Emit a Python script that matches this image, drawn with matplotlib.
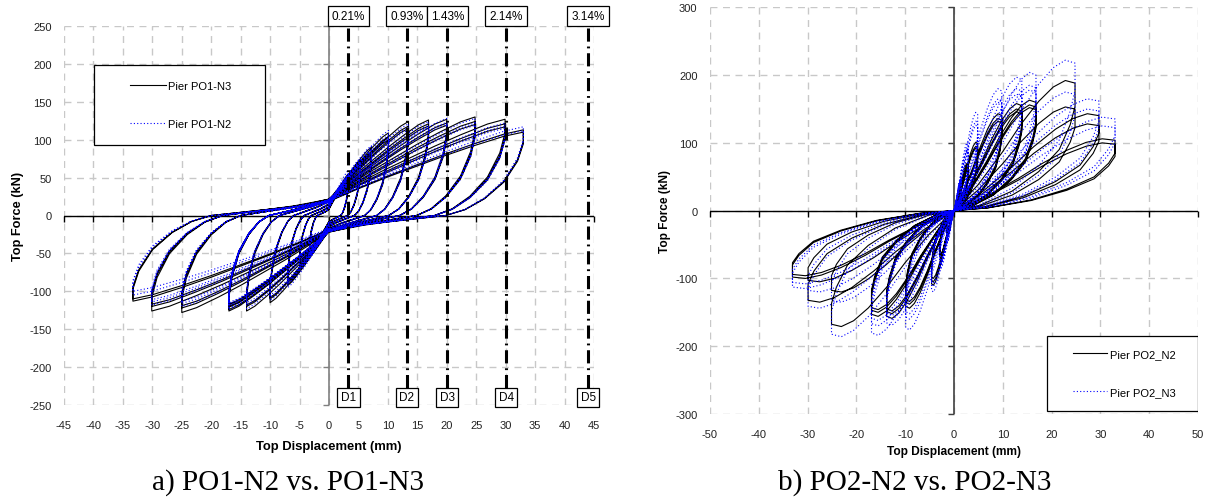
import numpy as np
import matplotlib.pyplot as plt
from matplotlib.patches import Rectangle

plt.rcParams['font.family'] = ['Liberation Sans', 'DejaVu Sans']
plt.rcParams['axes.unicode_minus'] = False

# ---------------- data, panel a (PO1) ----------------
# peak displacement (mm) and peak force (kN) of every cycle
a_amp_pos = [3.3, 3.3, 3.3, 5.3, 5.3, 5.3, 7.2, 7.2, 7.2, 10.1, 10.1, 10.1,
             13.5, 13.5, 13.5, 16.9, 16.9, 16.9, 20.0, 20.0, 20.0,
             24.8, 24.8, 24.8, 29.9, 29.9, 29.9, 33.0, 33.0]
a_amp_neg = [-3.3, -3.3, -3.3, -5.0, -5.0, -5.0, -7.0, -7.0, -7.0, -10.0, -10.0, -10.0,
             -14.0, -14.0, -14.0, -17.0, -17.0, -17.0, -17.0, -17.0, -17.0,
             -25.0, -25.0, -25.0, -30.1, -30.1, -30.1, -33.3, -33.3]
n3_force_pos = [55, 50, 48, 72, 68, 66, 90, 84, 82, 109, 104, 100,
                124, 118, 115, 126, 121, 118, 127, 122, 119,
                130, 124, 120, 127, 121, 117, 113, 110]
n3_force_neg = [-50, -47, -45, -70, -66, -64, -92, -88, -85, -115, -110, -108,
                -126, -120, -118, -126, -121, -118, -124, -120, -117,
                -128, -122, -119, -126, -120, -117, -113, -110]
n2_force_pos = [60, 54, 52, 75, 70, 68, 92, 86, 83, 112, 106, 102,
                121, 116, 113, 124, 119, 116, 128, 123, 120,
                128, 122, 119, 122, 118, 115, 117, 112]
n2_force_neg = [-55, -50, -48, -72, -68, -65, -95, -90, -86, -112, -108, -105,
                -123, -118, -115, -124, -119, -116, -122, -118, -115,
                -120, -116, -113, -118, -114, -111, -105, -100]
# shape of one half cycle, as fractions of peak displacement / peak force
a_shape_u = [0, 0.15, 0.3, 0.45, 0.6, 0.75, 0.9, 1.0, 1.0, 0.97, 0.9, 0.8, 0.7, 0.6, 0.4, 0.2, 0.0]
a_shape_v = [0.17, 0.32, 0.46, 0.59, 0.72, 0.84, 0.95, 1.0, 0.86, 0.65, 0.4, 0.2, 0.07, 0.0, -0.05, -0.1, -0.17]

drift_labels = ['0.21%', '0.93%', '1.43%', '2.14%', '3.14%']
d_labels = ['D1', 'D2', 'D3', 'D4', 'D5']
d_disp = [3.3, 13.2, 20.1, 30.1, 44.0]

# ---------------- data, panel b (PO2) ----------------
b_amp_pos = [1.5, 1.5, 1.5, 2.9, 2.9, 2.9, 4.85, 4.85, 4.85, 9.8, 9.8, 9.8,
             13.9, 13.9, 13.9, 16.8, 16.8, 16.8, 24.8, 24.8, 29.7, 29.7, 33.0, 33.0]
b_amp_neg = [-1.5, -1.5, -1.5, -2.9, -2.9, -2.9, -4.6, -4.6, -4.6, -9.9, -9.9, -9.9,
             -13.8, -13.8, -13.8, -16.9, -16.9, -16.9, -25.1, -25.1, -29.9, -29.9, -33.1, -33.1]
po2n2_force_pos = [45, 42, 40, 70, 66, 64, 101, 95, 92, 143, 136, 132,
                   158, 150, 146, 163, 156, 152, 192, 153, 143, 128, 106, 100]
po2n2_force_neg = [-40, -38, -36, -70, -66, -63, -110, -105, -100, -144, -138, -134,
                   -159, -152, -148, -156, -150, -146, -171, -120, -135, -105, -100, -96]
po2n3_force_pos = [50, 47, 45, 101, 92, 88, 145, 132, 126, 180, 165, 160,
                   197, 180, 172, 204, 185, 178, 222, 175, 165, 150, 138, 125]
po2n3_force_neg = [-48, -45, -43, -85, -80, -76, -120, -112, -106, -176, -160, -152,
                   -169, -160, -155, -184, -170, -162, -186, -135, -144, -120, -115, -108]
b_shape_u = [0, 0.2, 0.4, 0.55, 0.7, 0.82, 0.92, 1.0, 1.0, 0.96, 0.87, 0.7, 0.48, 0.21, 0.0]
b_shape_v = [0.0, 0.2, 0.45, 0.66, 0.84, 0.95, 1.0, 0.98, 0.8, 0.66, 0.47, 0.3, 0.15, 0.04, 0.0]


def loops(amp_pos, amp_neg, f_pos, f_neg, su, sv):
    su = np.array(su)
    sv = np.array(sv)
    xs, ys = [], []
    for ap, an, fp, fn in zip(amp_pos, amp_neg, f_pos, f_neg):
        xs += list(su * ap) + list(su * an)
        ys += list(sv * fp) + list(sv * fn)
    return xs, ys


def style_axes(ax, xt, yt, ycol):
    for s in ax.spines.values():
        s.set_visible(False)
    ax.set_xlim(xt[0], xt[-1])
    ax.set_ylim(yt[0], yt[-1])
    ax.set_xticks(xt)
    ax.set_yticks(yt)
    ax.tick_params(length=0, labelsize=8, colors='#222222')
    ax.tick_params(axis='x', pad=11)
    ax.tick_params(axis='y', pad=9)
    ax.grid(True, color='#c8c8c8', ls=(0, (5, 4)), lw=1)
    ax.set_axisbelow(True)
    ax.axhline(0, color='black', lw=1, zorder=1.5)
    ax.axvline(0, color=ycol, lw=1.2, zorder=1.5)
    ax.plot(xt, np.zeros(len(xt)), ls='none', marker=3, ms=4, mew=1, color='black', clip_on=False)
    ax.plot(np.zeros(len(yt)), yt, ls='none', marker=0, ms=4, mew=1, color=ycol, clip_on=False)


fig = plt.figure(figsize=(12.06, 5.02), dpi=100)

# ---------------- panel a ----------------
ax1 = fig.add_axes([64 / 1206, 96 / 502, 530 / 1206, 379 / 502])
style_axes(ax1, list(range(-45, 46, 5)), list(range(-250, 251, 50)), '#808080')
x, y = loops(a_amp_pos, a_amp_neg, n3_force_pos, n3_force_neg, a_shape_u, a_shape_v)
ax1.plot(x, y, color='black', lw=0.8, label='Pier PO1-N3', zorder=2)
x, y = loops(a_amp_pos, a_amp_neg, n2_force_pos, n2_force_neg, a_shape_u, a_shape_v)
ax1.plot(x, y, color='#0000ff', lw=0.8, ls=(0, (1, 2)), label='Pier PO1-N2', zorder=3)

for xd, pl, dl in zip(d_disp, drift_labels, d_labels):
    ax1.plot([xd, xd], [248, -232], color='black', lw=2.2, ls=(0, (4.3, 1.6, 0.6, 1.6)), zorder=4)
    ax1.text(xd, 1.026, pl, transform=ax1.get_xaxis_transform(), ha='center', va='center',
             fontsize=8.5, bbox=dict(boxstyle='square,pad=0.35', fc='white', ec='black', lw=0.9))
    ax1.text(xd, -240, dl, ha='center', va='center', fontsize=8.5, zorder=5,
             bbox=dict(boxstyle='square,pad=0.3', fc='white', ec='black', lw=0.9))

ax1.add_patch(Rectangle((30 / 530, 260 / 379), 171 / 530, 80 / 379, transform=ax1.transAxes,
                        fc='white', ec='black', lw=0.9, zorder=5))
leg1 = ax1.legend(loc='upper left', bbox_to_anchor=(66 / 530, (406 - 82) / 379), frameon=False,
                  fontsize=8, handlelength=3.2, handletextpad=0.25, labelspacing=2.5, borderpad=0,
                  borderaxespad=0)
leg1.set_zorder(6)

ax1.text(0.5, -0.108, 'Top Displacement (mm)', transform=ax1.transAxes, ha='center', va='center',
         fontsize=9.4, fontweight='bold')
ax1.text(-0.0868, 0.5, 'Top Force (kN)', transform=ax1.transAxes, ha='center', va='center',
         rotation=90, fontsize=9.2, fontweight='bold')

# ---------------- panel b ----------------
ax2 = fig.add_axes([710 / 1206, 87 / 502, 488 / 1206, 406.7 / 502])
style_axes(ax2, list(range(-50, 51, 10)), list(range(-300, 301, 100)), '#404040')
x, y = loops(b_amp_pos, b_amp_neg, po2n2_force_pos, po2n2_force_neg, b_shape_u, b_shape_v)
ax2.plot(x, y, color='black', lw=0.8, label='Pier PO2_N2', zorder=2)
x, y = loops(b_amp_pos, b_amp_neg, po2n3_force_pos, po2n3_force_neg, b_shape_u, b_shape_v)
ax2.plot(x, y, color='#0000ff', lw=0.8, ls=(0, (1, 2)), label='Pier PO2_N3', zorder=3)

ax2.add_patch(Rectangle((337 / 488, 3 / 406.7), 151 / 488, 75 / 406.7, transform=ax2.transAxes,
                        fc='white', ec='black', lw=0.9, zorder=5))
leg2 = ax2.legend(loc='upper left', bbox_to_anchor=(363 / 488, (415 - 350) / 406.7), frameon=False,
                  fontsize=8, handlelength=3.1, handletextpad=0.25, labelspacing=2.5, borderpad=0,
                  borderaxespad=0)
leg2.set_zorder(6)

ax2.text(0.5, -0.091, 'Top Displacement (mm)', transform=ax2.transAxes, ha='center', va='center',
         fontsize=8.6, fontweight='bold')
ax2.text(-0.0922, 0.5, 'Top Force (kN)', transform=ax2.transAxes, ha='center', va='center',
         rotation=90, fontsize=8.6, fontweight='bold')

# captions
fig.text(288 / 1206, 1 - 483 / 502, 'a) PO1-N2 vs. PO1-N3', ha='center', va='center',
         fontsize=21, family='Liberation Serif')
fig.text(915 / 1206, 1 - 483 / 502, 'b) PO2-N2 vs. PO2-N3', ha='center', va='center',
         fontsize=21, family='Liberation Serif')

fig.savefig('out.png', dpi=100)
